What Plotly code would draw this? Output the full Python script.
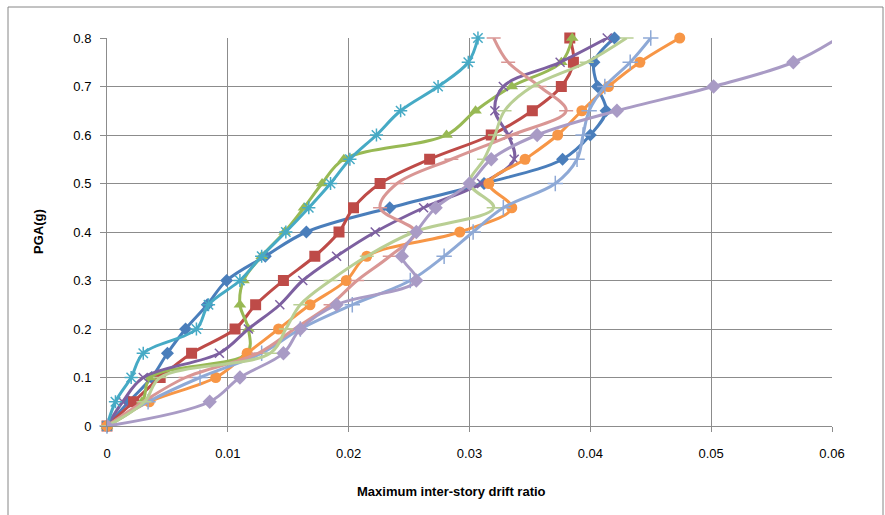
import plotly.graph_objects as go

pga = [0, 0.05, 0.1, 0.15, 0.2, 0.25, 0.3, 0.35, 0.4, 0.45, 0.5, 0.55, 0.6, 0.65, 0.7, 0.75, 0.8]

s1_blue = [0, 0.0018, 0.0037, 0.0050, 0.0065, 0.0083, 0.0099, 0.0131, 0.0165, 0.0234, 0.0312, 0.0377, 0.0400, 0.0413, 0.0406, 0.0403, 0.0420]
s2_red = [0, 0.0022, 0.0044, 0.0070, 0.0106, 0.0123, 0.0146, 0.0172, 0.0192, 0.0204, 0.0226, 0.0267, 0.0318, 0.0352, 0.0376, 0.0386, 0.0383]
s3_green = [0, 0.0029, 0.0036, 0.0116, 0.0117, 0.0110, 0.0113, 0.0128, 0.0147, 0.0163, 0.0178, 0.0196, 0.0281, 0.0305, 0.0335, 0.0376, 0.0385]
s4_purple = [0, 0.0013, 0.0030, 0.0093, 0.0117, 0.0143, 0.0162, 0.0190, 0.0222, 0.0262, 0.0310, 0.0337, 0.0332, 0.0321, 0.0328, 0.0375, 0.0414]
s5_teal = [0, 0.0007, 0.0020, 0.0030, 0.0074, 0.0084, 0.0110, 0.0128, 0.0148, 0.0167, 0.0185, 0.0201, 0.0223, 0.0243, 0.0274, 0.0299, 0.0307]
s6_orange = [0, 0.0035, 0.0090, 0.0116, 0.0142, 0.0168, 0.0198, 0.0215, 0.0292, 0.0335, 0.0316, 0.0346, 0.0373, 0.0393, 0.0415, 0.0441, 0.0474]
s7_lightblue = [0, 0.0034, 0.0077, 0.0128, 0.0160, 0.0203, 0.0251, 0.0279, 0.0303, 0.0328, 0.0371, 0.0389, 0.0394, 0.0399, 0.0412, 0.0433, 0.0450]
s8_pink = [0, 0.0030, 0.0065, 0.0125, 0.0155, 0.0185, 0.0207, 0.0234, 0.0255, 0.0226, 0.0240, 0.0285, 0.0335, 0.0380, 0.0358, 0.0332, 0.0320]
s9_lightgreen = [0, 0.0031, 0.0044, 0.0135, 0.0148, 0.0160, 0.0185, 0.0215, 0.0254, 0.0320, 0.0300, 0.0312, 0.0321, 0.0329, 0.0352, 0.0397, 0.0430]
s10_lilac = [0, 0.0085, 0.0110, 0.0146, 0.0160, 0.0190, 0.0256, 0.0244, 0.0256, 0.0272, 0.0300, 0.0318, 0.0356, 0.0422, 0.0502, 0.0568, 0.0605]

series = [
    ("S1", s1_blue, "#4A7EBB", "diamond", 10, False),
    ("S2", s2_red, "#BE4B48", "square", 11, False),
    ("S3", s3_green, "#98B954", "triangle-up", 11, False),
    ("S4", s4_purple, "#7D60A0", "x-thin-open", 9, False),
    ("S5", s5_teal, "#46AAC5", "asterisk-open", 11, False),
    ("S6", s6_orange, "#F79646", "circle", 11, False),
    ("S7", s7_lightblue, "#8EA9D6", "cross-thin-open", 11, False),
    ("S8", s8_pink, "#D99694", "line-ew-open", 10, False),
    ("S9", s9_lightgreen, "#B9CF94", "line-ew-open", 10, False),
    ("S10", s10_lilac, "#A99BC5", "diamond", 11, True),
]

fig = go.Figure()
for name, xs, col, sym, sz, clip in series:
    openm = sym.endswith("-open")
    fig.add_trace(go.Scatter(
        x=xs, y=pga, name=name, mode="lines+markers",
        line=dict(color=col, width=3, shape="spline", smoothing=1.0),
        marker=dict(symbol=sym, size=sz, color=col,
                    line=dict(color=col, width=1.5 if openm else 0)),
        cliponaxis=clip, showlegend=False,
    ))

font_family = "Liberation Sans, Arial, sans-serif"
grid = "#8C8C8C"

fig.update_xaxes(range=[0, 0.06], dtick=0.01, tick0=0, showgrid=True, gridcolor=grid, gridwidth=1,
                 showline=True, linecolor=grid, linewidth=1, ticks="outside", ticklen=5,
                 tickcolor=grid, zeroline=False, ticklabelstandoff=10,
                 tickfont=dict(family=font_family, size=13, color="#000"))
fig.update_yaxes(range=[0, 0.8], dtick=0.1, tick0=0, showgrid=True, gridcolor=grid, gridwidth=1,
                 showline=True, linecolor=grid, linewidth=1, ticks="outside", ticklen=6,
                 tickcolor=grid, zeroline=False, ticklabelstandoff=6,
                 tickfont=dict(family=font_family, size=13, color="#000"))

fig.update_layout(
    width=885, height=515,
    margin=dict(l=107, r=53, t=38, b=89),
    paper_bgcolor="white", plot_bgcolor="white",
    annotations=[
        dict(text="<b>Maximum inter-story drift ratio</b>", xref="paper", yref="paper",
             x=(451 - 107) / 725, y=(426 - 491) / 388, xanchor="center", yanchor="middle",
             showarrow=False, font=dict(family=font_family, size=13, color="#000")),
        dict(text="<b>PGA(g)</b>", xref="paper", yref="paper",
             x=(38 - 107) / 725, y=(426 - 232) / 388, xanchor="center", yanchor="middle",
             textangle=-90, showarrow=False, font=dict(family=font_family, size=13, color="#000")),
    ],
    shapes=[
        dict(type="rect", xref="paper", yref="paper",
             x0=(8 - 107) / 725, x1=(883 - 107) / 725,
             y0=(426 - 530) / 388, y1=(426 - 7) / 388,
             line=dict(color="#868686", width=1), fillcolor="rgba(0,0,0,0)", layer="below"),
    ],
)

fig.write_html("out.html")
